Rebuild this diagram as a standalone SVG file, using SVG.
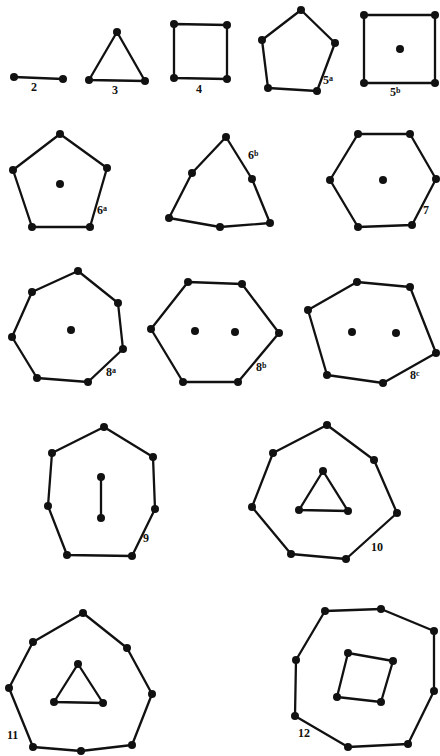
<svg xmlns="http://www.w3.org/2000/svg" width="440" height="756" viewBox="0 0 440 756">
<style>
.e{fill:none;stroke:#111;stroke-width:2.3;stroke-linejoin:round}
.d{fill:#111}
.l{font-family:"Liberation Serif",serif;font-weight:bold;font-size:12px;fill:#111}
.s{font-size:8px}
</style>
<defs><circle id="p" r="4" class="d"/></defs>
<rect width="440" height="756" fill="#fff"/>
<g id="connectors">
<polyline class="e" points="14,77 63,79"/>
<polygon class="e" points="117,32 145,81 89,80"/>
<polygon class="e" points="174,24 227,25 227,79 174,78"/>
<polygon class="e" points="301,10 335,43 317,91 268,88 262,40"/>
<polygon class="e" points="364,15 435,15 435,83 364,83"/>
<polygon class="e" points="60,134 107,168 90,227 32,227 13,170"/>
<polygon class="e" points="226,137 252,179 270,223 220,227 169,218 192,173"/>
<polygon class="e" points="358,134 410,134 436,179 412,225 358,227 330,180"/>
<polygon class="e" points="78,271 118,303 123,349 88,382 37,378 12,337 32,292"/>
<polygon class="e" points="188,282 242,284 279,333 238,382 183,382 151,329"/>
<polygon class="e" points="357,282 410,287 436,353 383,383 327,375 308,310"/>
<polygon class="e" points="104,427 153,457 155,509 132,556 67,555 48,506 52,453"/>
<polyline class="e" points="101,477 101,518"/>
<polygon class="e" points="327,425 374,460 397,513 346,559 291,554 252,507 273,453"/>
<polygon class="e" points="323,471 348,511 299,510"/>
<polygon class="e" points="83,613 127,648 152,694 132,745 81,751 33,747 9,688 33,642"/>
<polygon class="e" points="78,664 103,703 54,702"/>
<polygon class="e" points="325,611 381,609 434,631 434,691 408,744 348,747 295,716 296,660"/>
<polygon class="e" points="348,653 393,661 381,702 337,697"/>
</g>
<g id="fig2"><use href="#p" x="14" y="77"/><use href="#p" x="63" y="79"/><text class="l" x="31" y="91">2</text></g>
<g id="fig3"><use href="#p" x="117" y="32"/><use href="#p" x="145" y="81"/><use href="#p" x="89" y="80"/><text class="l" x="112" y="94">3</text></g>
<g id="fig4"><use href="#p" x="174" y="24"/><use href="#p" x="227" y="25"/><use href="#p" x="227" y="79"/><use href="#p" x="174" y="78"/><text class="l" x="196" y="93">4</text></g>
<g id="fig5a"><use href="#p" x="301" y="10"/><use href="#p" x="335" y="43"/><use href="#p" x="317" y="91"/><use href="#p" x="268" y="88"/><use href="#p" x="262" y="40"/><text class="l" x="323" y="84">5<tspan class="s" dy="-3">a</tspan></text></g>
<g id="fig5b"><use href="#p" x="364" y="15"/><use href="#p" x="435" y="15"/><use href="#p" x="435" y="83"/><use href="#p" x="364" y="83"/><use href="#p" x="400" y="49"/><text class="l" x="390" y="96">5<tspan class="s" dy="-3">b</tspan></text></g>
<g id="fig6a"><use href="#p" x="60" y="134"/><use href="#p" x="107" y="168"/><use href="#p" x="90" y="227"/><use href="#p" x="32" y="227"/><use href="#p" x="13" y="170"/><use href="#p" x="60" y="184"/><text class="l" x="97" y="214">6<tspan class="s" dy="-3">a</tspan></text></g>
<g id="fig6b"><use href="#p" x="226" y="137"/><use href="#p" x="252" y="179"/><use href="#p" x="270" y="223"/><use href="#p" x="220" y="227"/><use href="#p" x="169" y="218"/><use href="#p" x="192" y="173"/><text class="l" x="248" y="159">6<tspan class="s" dy="-3">b</tspan></text></g>
<g id="fig7"><use href="#p" x="358" y="134"/><use href="#p" x="410" y="134"/><use href="#p" x="436" y="179"/><use href="#p" x="412" y="225"/><use href="#p" x="358" y="227"/><use href="#p" x="330" y="180"/><use href="#p" x="383" y="180"/><text class="l" x="423" y="214">7</text></g>
<g id="fig8a"><use href="#p" x="78" y="271"/><use href="#p" x="118" y="303"/><use href="#p" x="123" y="349"/><use href="#p" x="88" y="382"/><use href="#p" x="37" y="378"/><use href="#p" x="12" y="337"/><use href="#p" x="32" y="292"/><use href="#p" x="71" y="330"/><text class="l" x="106" y="376">8<tspan class="s" dy="-3">a</tspan></text></g>
<g id="fig8b"><use href="#p" x="188" y="282"/><use href="#p" x="242" y="284"/><use href="#p" x="279" y="333"/><use href="#p" x="238" y="382"/><use href="#p" x="183" y="382"/><use href="#p" x="151" y="329"/><use href="#p" x="195" y="331"/><use href="#p" x="235" y="332"/><text class="l" x="256" y="371">8<tspan class="s" dy="-3">b</tspan></text></g>
<g id="fig8c"><use href="#p" x="357" y="282"/><use href="#p" x="410" y="287"/><use href="#p" x="436" y="353"/><use href="#p" x="383" y="383"/><use href="#p" x="327" y="375"/><use href="#p" x="308" y="310"/><use href="#p" x="352" y="332"/><use href="#p" x="396" y="333"/><text class="l" x="410" y="379">8<tspan class="s" dy="-3">c</tspan></text></g>
<g id="fig9"><use href="#p" x="104" y="427"/><use href="#p" x="153" y="457"/><use href="#p" x="155" y="509"/><use href="#p" x="132" y="556"/><use href="#p" x="67" y="555"/><use href="#p" x="48" y="506"/><use href="#p" x="52" y="453"/><use href="#p" x="101" y="477"/><use href="#p" x="101" y="518"/><text class="l" x="143" y="542">9</text></g>
<g id="fig10"><use href="#p" x="327" y="425"/><use href="#p" x="374" y="460"/><use href="#p" x="397" y="513"/><use href="#p" x="346" y="559"/><use href="#p" x="291" y="554"/><use href="#p" x="252" y="507"/><use href="#p" x="273" y="453"/><use href="#p" x="323" y="471"/><use href="#p" x="348" y="511"/><use href="#p" x="299" y="510"/><text class="l" x="371" y="551">10</text></g>
<g id="fig11"><use href="#p" x="83" y="613"/><use href="#p" x="127" y="648"/><use href="#p" x="152" y="694"/><use href="#p" x="132" y="745"/><use href="#p" x="81" y="751"/><use href="#p" x="33" y="747"/><use href="#p" x="9" y="688"/><use href="#p" x="33" y="642"/><use href="#p" x="78" y="664"/><use href="#p" x="103" y="703"/><use href="#p" x="54" y="702"/><text class="l" x="7" y="739">11</text></g>
<g id="fig12"><use href="#p" x="325" y="611"/><use href="#p" x="381" y="609"/><use href="#p" x="434" y="631"/><use href="#p" x="434" y="691"/><use href="#p" x="408" y="744"/><use href="#p" x="348" y="747"/><use href="#p" x="295" y="716"/><use href="#p" x="296" y="660"/><use href="#p" x="348" y="653"/><use href="#p" x="393" y="661"/><use href="#p" x="381" y="702"/><use href="#p" x="337" y="697"/><text class="l" x="298" y="737">12</text></g>
</svg>
